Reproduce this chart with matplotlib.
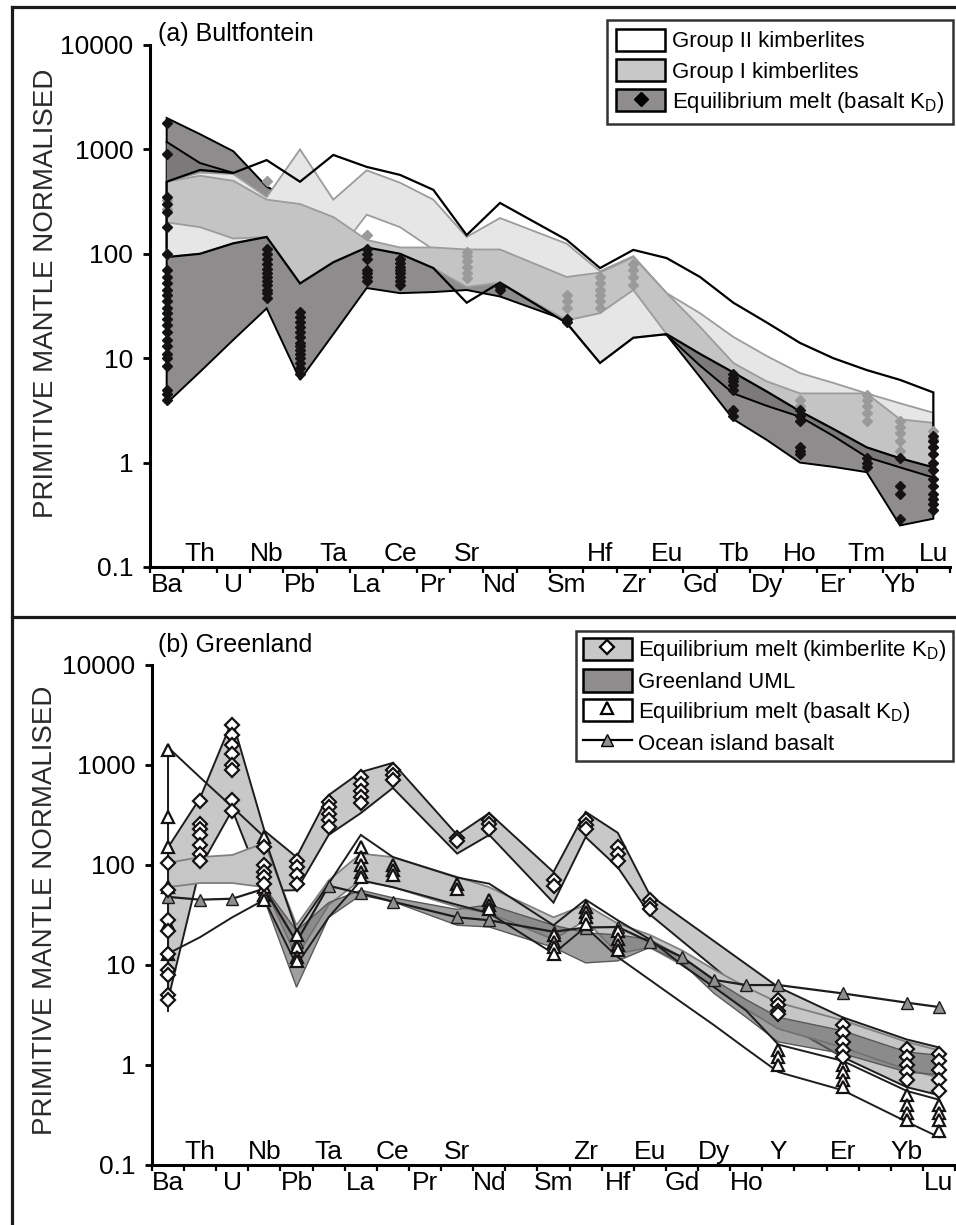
import numpy as np
import matplotlib.pyplot as plt
from matplotlib.patches import Patch
from matplotlib.lines import Line2D
from matplotlib.legend_handler import HandlerTuple
from matplotlib.ticker import NullLocator

plt.rcParams['font.family'] = ['Liberation Sans', 'DejaVu Sans']

# ---------------- panel (a) Bultfontein ----------------
elem_a = ['Ba', 'Th', 'U', 'Nb', 'Pb', 'Ta', 'La', 'Ce', 'Pr', 'Sr', 'Nd', '',
          'Sm', 'Hf', 'Zr', 'Eu', 'Gd', 'Tb', 'Dy', 'Ho', 'Er', 'Tm', 'Yb', 'Lu']
fld_a = [e for e in elem_a if e]

# Group II kimberlite field
g2_hi = [490, 635, 595, 790, 490, 885, 680, 570, 410, 151, 307, 136, 73, 109, 91,
         60, 34, 22, 14, 10, 7.7, 6.2, 4.7]
g2_lo = [93, 100, 126, 145, 52, 83, 115, 100, 73, 34, 53, 21.7, 9.0, 15.7, 17,
         11, 7.3, 4.8, 3.1, 2.1, 1.4, 1.1, 0.9]
# Group I kimberlite field (outer, light)
g1o_hi = [490, 600, 580, 350, 1000, 330, 630, 480, 330, 145, 220, 125, 68, 95, 42,
          27, 16, 10.5, 7.2, 5.8, 4.6, 3.7, 3.0]
g1o_lo = [93, 100, 126, 145, 52, 91, 237, 180, 110, 48, 53, 22, 9.0, 15.7, 17,
          11, 7.3, 4.8, 3.1, 2.1, 1.4, 1.1, 0.9]
# Group I kimberlite field (inner, medium)
g1i_hi = [490, 560, 500, 330, 300, 225, 136, 115, 115, 110, 110, 60, 66, 93, 42,
          20, 9, 6, 4.6, 4.6, 4.6, 2.6, 2.4]
g1i_lo = [200, 180, 140, 145, 52, 83, 115, 100, 73, 48, 53, 23, 27, 45, 17,
          11, 7.3, 4.8, 3.1, 2.1, 1.4, 1.1, 0.9]
# equilibrium melt (basalt KD) field
em_hi = [2000, 1400, 960, 440, 300, 220, 130, 110, 100, 100, 80, 30, 25, 22, 17,
         11, 7.3, 4.8, 3.1, 2.1, 1.4, 1.1, 0.9]
em_lo = [3.7, 7.4, 15, 30, 6.2, 17, 47, 42, 43, 45, 39, 23, 20, 19, 16.7,
         6.6, 2.6, 1.65, 1.0, 0.91, 0.81, 0.25, 0.29]
# darker overlap parts of the melt field
wedge_el = ['Ba', 'Th', 'U']
wedge_hi = [1180, 740, 595]
wedge_lo = [490, 635, 595]
strip_el = ['Eu', 'Gd', 'Tb', 'Dy', 'Ho', 'Er', 'Tm', 'Yb', 'Lu']
strip_hi = [17, 11, 7.3, 4.8, 3.1, 2.1, 1.4, 1.1, 0.9]
strip_lo = [16.7, 8.5, 4.6, 3.5, 2.75, 1.8, 1.13, 0.9, 0.72]

# equilibrium melt samples (black diamonds)
melt_a = {
    'Ba': [1800, 900, 350, 300, 250, 180, 100, 70, 60, 52, 45, 40, 35, 30, 27, 24,
           21, 18, 15, 13, 11, 10, 8.5, 5, 4.5, 4],
    'Nb': [110, 100, 90, 80, 72, 65, 60, 55, 50, 45, 42, 38],
    'Pb': [28, 25, 22, 20, 18, 16, 14, 13, 12, 11, 10, 9, 8, 7],
    'La': [110, 100, 90, 70, 65, 60, 55],
    'Ce': [90, 82, 75, 70, 65, 60, 55, 50],
    'Nd': [48, 45],
    'Sm': [24, 22],
    'Tb': [7.0, 6.5, 6.0, 5.5, 5.0, 3.2, 2.8],
    'Ho': [3.2, 2.8, 2.5, 1.4, 1.3, 1.2],
    'Tm': [1.1, 1.0, 0.9],
    'Yb': [1.1, 0.6, 0.5, 0.29],
    'Lu': [1.8, 1.6, 1.4, 1.2, 1.0, 0.85, 0.7, 0.6, 0.5, 0.45, 0.4, 0.35],
}
# Group I samples (grey diamonds)
grp1_a = {
    'Ba': [330, 300, 270, 100], 'Nb': [500], 'La': [150],
    'Sr': [105, 95, 85, 75, 65, 58], 'Sm': [40, 35, 30],
    'Hf': [60, 52, 45, 40, 35, 30], 'Zr': [80, 70, 60, 50],
    'Ho': [4.0, 3.5], 'Tm': [4.4, 4.0, 3.5, 3.0, 2.5],
    'Yb': [2.5, 2.2, 1.9, 1.6, 1.3], 'Lu': [2.0, 1.7, 1.4],
}

# ---------------- panel (b) Greenland ----------------
elem_b = ['Ba', 'Th', 'U', 'Nb', 'Pb', 'Ta', 'La', 'Ce', 'Pr', 'Sr', 'Nd', '',
          'Sm', 'Zr', 'Hf', 'Eu', 'Gd', 'Dy', 'Ho', 'Y', '', 'Er', '', 'Yb', 'Lu']

# equilibrium melt (kimberlite KD), main band
kim_el = ['Ba', 'Th', 'U', 'Nb', 'Pb', 'Ta', 'La', 'Ce', 'Sr', 'Nd', 'Sm', 'Zr',
          'Hf', 'Eu', 'Y', 'Er', 'Yb', 'Lu']
kim_hi = [150, 470, 2800, 220, 120, 500, 850, 1050, 200, 330, 85, 340, 210, 50,
          6.0, 3.0, 1.8, 1.5]
kim_lo = [4.5, 95, 355, 55, 56, 200, 330, 590, 130, 200, 42, 190, 95, 32,
          2.8, 1.2, 0.6, 0.5]
# equilibrium melt (kimberlite KD), second band
kim2_el = ['Ba', 'Th', 'U', 'Nb', 'Pb', 'Ta', 'La', 'Ce', 'Sr', 'Nd', 'Sm', 'Zr',
           'Hf', 'Eu', 'Gd', 'Dy', 'Ho', 'Y', 'Er', 'Yb', 'Lu']
kim2_hi = [105, 120, 126, 166, 25, 70, 130, 120, 76, 60, 30, 40, 26, 20, 14, 9,
           6, 4.2, 2.8, 1.7, 1.4]
kim2_lo = [60, 66, 66, 60, 12, 40, 71, 60, 38, 33, 18, 28, 13, 15, 10, 6,
           3.6, 2.3, 1.5, 0.9, 0.75]
# Greenland UML field
uml_el = ['Nb', 'Pb', 'Ta', 'La', 'Ce', 'Sr', 'Nd', 'Sm', 'Zr', 'Hf', 'Eu', 'Gd',
          'Dy', 'Ho', 'Y', 'Er', 'Yb', 'Lu']
uml_hi = [60, 22, 42, 56, 47, 36, 40, 25, 21, 20, 18, 12, 7.1, 4.5, 3.0, 2.2, 1.35, 1.25]
uml_lo = [45, 6, 30, 50, 43, 25, 24, 15, 10.5, 11, 15, 10.5, 5.2, 3.0, 1.7, 1.3, 0.85, 0.8]
# equilibrium melt (basalt KD) field
bas_el = ['Ba', 'Th', 'U', 'Nb', 'Pb', 'Ta', 'La', 'Ce', 'Sr', 'Nd', 'Sm', 'Zr',
          'Hf', 'Eu', 'Gd', 'Dy', 'Ho', 'Y', 'Er', 'Yb', 'Lu']
bas_hi = [1500, 750, 380, 190, 22, 65, 200, 120, 75, 65, 25, 45, 28, 18, 10, 6,
          3.5, 1.6, 1.1, 0.55, 0.45]
bas_lo = [13, 19, 30, 45, 10, 30, 70, 60, 40, 33, 13, 24, 12, 7.1, 4.2, 2.5,
          1.45, 0.85, 0.56, 0.27, 0.19]
ba_range_b = [1500, 3.5]
# ocean island basalt
oib_el = bas_el
oib = [48, 45, 46, 58, 17, 62, 52, 43, 30, 28, 21.5, 23.7, 24, 17, 12, 7.1, 6.3,
       6.3, 5.2, 4.2, 3.8]

kim_pts = {
    'Ba': [105, 56, 28, 22, 13, 9, 8, 5, 4.5],
    'Th': [440, 260, 230, 200, 160, 130, 110],
    'U': [2500, 2000, 1600, 1300, 1000, 900, 450, 350],
    'Nb': [150, 100, 85, 75, 65],
    'Pb': [110, 95, 80, 65],
    'Ta': [430, 380, 320, 280, 240],
    'La': [750, 650, 550, 480, 420],
    'Ce': [900, 800, 700],
    'Sr': [185, 175],
    'Nd': [280, 260, 230],
    'Sm': [70, 62],
    'Zr': [280, 250, 230],
    'Hf': [150, 130, 110],
    'Eu': [45, 40, 36],
    'Y': [4.5, 4.0, 3.5, 3.2],
    'Er': [2.5, 2.1, 1.7, 1.4, 1.2],
    'Yb': [1.45, 1.2, 1.0, 0.85, 0.7],
    'Lu': [1.3, 1.1, 0.9, 0.7, 0.55],
}
bas_pts = {
    'Ba': [1400, 300, 150, 60, 26, 13],
    'Nb': [190, 60, 50, 45],
    'Pb': [20, 15, 12, 11],
    'La': [150, 120, 100, 85, 75],
    'Ce': [100, 90, 80],
    'Sr': [65, 58],
    'Nd': [45, 40, 36],
    'Sm': [20, 17, 15, 13],
    'Zr': [38, 34, 30, 26],
    'Hf': [22, 18, 16, 14],
    'Y': [1.4, 1.2, 1.0],
    'Er': [1.0, 0.85, 0.7, 0.6],
    'Yb': [0.5, 0.4, 0.33, 0.28],
    'Lu': [0.4, 0.33, 0.28, 0.22],
}

yticks = [0.1, 1, 10, 100, 1000, 10000]
ylabels = ['0.1', '1', '10', '100', '1000', '10000']

DARK = '#8e8c8c'
DARKER = '#7b7979'
MED = '#c4c4c4'
LIGHT = '#e6e6e6'
EDGE_G = '#9c9c9c'


def xs(elems, names):
    return [elems.index(n) for n in names]


def field(ax, elems, names, hi, lo, **kw):
    x = xs(elems, names)
    return ax.fill(x + x[::-1], list(hi) + list(lo)[::-1], **kw)


def points(ax, elems, pts, **kw):
    for name, vals in pts.items():
        ax.plot([elems.index(name)] * len(vals), vals, linestyle='none', **kw)


def style(ax, elems):
    n = len(elems)
    ax.set_yscale('log')
    ax.set_ylim(0.1, 10000)
    ax.set_xlim(-0.5, n - 0.5)
    ax.set_yticks(yticks, ylabels)
    ax.yaxis.set_minor_locator(NullLocator())
    low = [i for i, e in enumerate(elems) if e and i % 2 == 0]
    ax.set_xticks(low, [elems[i] for i in low])
    ax.set_xticks(np.arange(-0.5, n), minor=True)
    for i, e in enumerate(elems):
        if e and i % 2 == 1:
            ax.annotate(e, (i, 0), xycoords=ax.get_xaxis_transform(),
                        xytext=(0, 4), textcoords='offset points',
                        ha='center', va='baseline', fontsize=19)
    for s in ['top', 'right']:
        ax.spines[s].set_visible(False)
    for s in ['left', 'bottom']:
        ax.spines[s].set_linewidth(2.2)
    ax.tick_params(axis='y', which='major', length=5, width=2, pad=7, labelsize=19)
    ax.tick_params(axis='x', which='major', length=0, pad=4, labelsize=19)
    ax.tick_params(axis='x', which='minor', length=4, width=1.6)
    ax.set_ylabel('PRIMITIVE MANTLE NORMALISED', fontsize=20, color='#2a2a2a')
    ax.yaxis.label.set_va('center')


fig = plt.figure(figsize=(9.56, 12.25), dpi=100)

# ---- (a)
ax1 = fig.add_axes([150 / 956, 1 - 567 / 1225, 800 / 956, 522 / 1225])
field(ax1, elem_a, fld_a, em_hi, em_lo, facecolor=DARK, edgecolor='k', lw=1.4, zorder=1)
field(ax1, elem_a, wedge_el, wedge_hi, wedge_lo, facecolor=DARKER, edgecolor='none', zorder=1.2)
ax1.plot(xs(elem_a, wedge_el), wedge_hi, color='k', lw=1.4, zorder=1.3)
field(ax1, elem_a, strip_el, strip_hi, strip_lo, facecolor=DARKER, edgecolor='none', zorder=1.2)
ax1.plot(xs(elem_a, strip_el), strip_lo, color='k', lw=1.4, zorder=1.3)
field(ax1, elem_a, fld_a, g1o_hi, g1o_lo, facecolor=LIGHT, edgecolor=EDGE_G, lw=1.3, zorder=2)
field(ax1, elem_a, fld_a, g1i_hi, g1i_lo, facecolor=MED, edgecolor=EDGE_G, lw=1.3, zorder=2.1)
field(ax1, elem_a, fld_a, g2_hi, g2_lo, facecolor='none', edgecolor='k', lw=1.6, zorder=3)
points(ax1, elem_a, grp1_a, marker='D', ms=5.5, color='#9a9a9a', zorder=4)
points(ax1, elem_a, melt_a, marker='D', ms=5.5, color='#141212', zorder=5)
style(ax1, elem_a)
ax1.yaxis.set_label_coords(-0.1306, 0.525)

leg_a = [
    Patch(facecolor='white', edgecolor='k', lw=1.8),
    Patch(facecolor='#c8c8c8', edgecolor='k', lw=1.8),
    (Patch(facecolor=DARK, edgecolor='k', lw=1.8),
     Line2D([], [], marker='D', ms=7, color='k', linestyle='none')),
]
lg1 = fig.legend(leg_a, ['Group II kimberlites', 'Group I kimberlites',
                         r'Equilibrium melt (basalt K$_\mathregular{D}$)'],
                 loc='upper right', bbox_to_anchor=(953 / 956, 1 - 20 / 1225),
                 fontsize=16, frameon=True, fancybox=False, edgecolor='k',
                 handlelength=2.2, handleheight=1.15, handletextpad=0.3,
                 labelspacing=0.3, borderpad=0.4, borderaxespad=0,
                 handler_map={tuple: HandlerTuple(ndivide=1)})
lg1.get_frame().set_linewidth(1.8)

# ---- (b)
ax2 = fig.add_axes([152 / 956, 1 - 1165 / 1225, 803 / 956, 500 / 1225])
field(ax2, elem_b, kim_el, kim_hi, kim_lo, facecolor='#c8c8c8', edgecolor='#1e1c1c', lw=1.4, zorder=1)
field(ax2, elem_b, kim2_el, kim2_hi, kim2_lo, facecolor='#c6c6c6', edgecolor='#808080', lw=1.3, zorder=1.1)
field(ax2, elem_b, uml_el, uml_hi, uml_lo, facecolor='#6e6c6c', alpha=0.65, edgecolor='none', zorder=1.5)
field(ax2, elem_b, uml_el, uml_hi, uml_lo, facecolor='none', edgecolor='#5a5858', lw=1.0, zorder=1.6)
field(ax2, elem_b, bas_el, bas_hi, bas_lo, facecolor='none', edgecolor='#1e1c1c', lw=1.4, zorder=3)
ax2.plot([elem_b.index('Ba')] * 2, ba_range_b, color='#1e1c1c', lw=1.4, zorder=3)
ax2.plot(xs(elem_b, oib_el), oib, color='#1e1c1c', lw=1.6, marker='^', ms=8.5,
         mfc='#8f8f8f', mec='#1e1c1c', mew=1.0, zorder=5)
points(ax2, elem_b, bas_pts, marker='^', ms=8, mfc='white', mec='#141212', mew=1.6, zorder=6)
points(ax2, elem_b, kim_pts, marker='D', ms=7, mfc='white', mec='#141212', mew=1.6, zorder=6)
style(ax2, elem_b)
ax2.yaxis.set_label_coords(-0.133, 0.51)

leg_b = [
    (Patch(facecolor='#c8c8c8', edgecolor='k', lw=1.8),
     Line2D([], [], marker='D', ms=7, mfc='white', mec='k', mew=1.6, linestyle='none')),
    Patch(facecolor=DARK, edgecolor='k', lw=1.8),
    (Patch(facecolor='white', edgecolor='k', lw=1.8),
     Line2D([], [], marker='^', ms=8, mfc='white', mec='k', mew=1.6, linestyle='none')),
    Line2D([], [], color='k', lw=1.6, marker='^', ms=8.5, mfc='#8f8f8f', mec='k'),
]
lg2 = fig.legend(leg_b, [r'Equilibrium melt (kimberlite K$_\mathregular{D}$)',
                         'Greenland UML',
                         r'Equilibrium melt (basalt K$_\mathregular{D}$)',
                         'Ocean island basalt'],
                 loc='upper right', bbox_to_anchor=(953 / 956, 1 - 631 / 1225),
                 fontsize=16, frameon=True, fancybox=False, edgecolor='k',
                 handlelength=2.2, handleheight=1.15, handletextpad=0.3,
                 labelspacing=0.28, borderpad=0.3, borderaxespad=0,
                 handler_map={tuple: HandlerTuple(ndivide=1)})
lg2.get_frame().set_linewidth(1.8)

fig.text(158 / 956, 1 - 34 / 1225, '(a) Bultfontein', fontsize=18, va='center', ha='left')
fig.text(158 / 956, 1 - 645 / 1225, '(b) Greenland', fontsize=18, va='center', ha='left')

# outer frame and divider
for xx, yy in [([12 / 956, 12 / 956], [0, 1 - 7 / 1225]),
               ([12 / 956, 1], [1 - 7 / 1225, 1 - 7 / 1225]),
               ([12 / 956, 1], [1 - 617 / 1225, 1 - 617 / 1225])]:
    fig.add_artist(Line2D(xx, yy, transform=fig.transFigure, color='#1a1a1a', lw=2.3))

fig.savefig('out.png', dpi=100)
